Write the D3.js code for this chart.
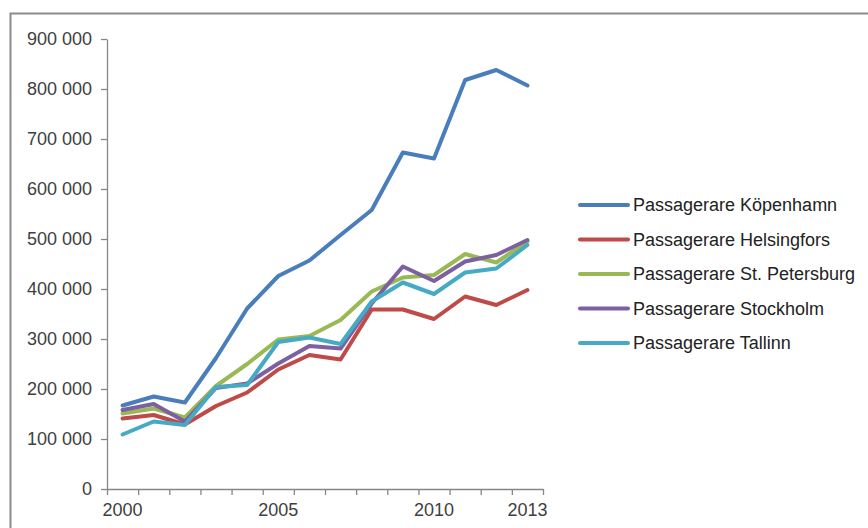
<!DOCTYPE html>
<html>
<head>
<meta charset="utf-8">
<script src="https://cdn.jsdelivr.net/npm/d3@7"></script>
<style>
  html, body { margin: 0; padding: 0; background: #fff; }
  svg { display: block; font-family: "Liberation Sans", Arial, sans-serif; }
</style>
</head>
<body>
<svg id="chart" width="868" height="528"></svg>
<script>
// Passenger counts per port, 2000–2013
const years = [2000, 2001, 2002, 2003, 2004, 2005, 2006, 2007, 2008, 2009, 2010, 2011, 2012, 2013];
const xLabels = [2000, 2005, 2010, 2013];
const yTicks = [0, 100000, 200000, 300000, 400000, 500000, 600000, 700000, 800000, 900000];

const seriesNames = [
  "Passagerare Köpenhamn",
  "Passagerare Helsingfors",
  "Passagerare St. Petersburg",
  "Passagerare Stockholm",
  "Passagerare Tallinn"
];
const kopenhamn     = [167000, 185000, 173000, 262000, 361000, 426000, 457000, 508000, 558000, 673000, 661000, 818000, 838000, 807000];
const helsingfors   = [141000, 148000, 129000, 166000, 193000, 239000, 268000, 259000, 359000, 359000, 340000, 385000, 368000, 398000];
const stPetersburg  = [151000, 161000, 143000, 206000, 250000, 299000, 306000, 338000, 395000, 423000, 428000, 470000, 453000, 495000];
const stockholm     = [158000, 170000, 135000, 202000, 211000, 251000, 286000, 281000, 371000, 445000, 416000, 455000, 468000, 498000];
const tallinn       = [109000, 135000, 128000, 204000, 208000, 294000, 303000, 290000, 375000, 413000, 390000, 433000, 441000, 488000];
const seriesValues = [kopenhamn, helsingfors, stPetersburg, stockholm, tallinn];
const seriesColors = ["#4A7EBB", "#BE4B48", "#98B954", "#7D60A0", "#46AAC5"];

const svg = d3.select("#chart");

// outer chart-area frame (runs off the right and bottom edges)
svg.append("rect")
  .attr("x", 10.5).attr("y", 13.5)
  .attr("width", 880).attr("height", 540)
  .attr("fill", "none")
  .attr("stroke", "#8a8a8a")
  .attr("stroke-width", 2);

const plot = { left: 107, right: 543, top: 39, bottom: 489 };

const x = d3.scaleBand().domain(years).range([plot.left, plot.right]).padding(0);
const xEdges = d3.scaleLinear().domain([0, years.length]).range([plot.left, plot.right]);
const y = d3.scaleLinear().domain([0, 900000]).range([plot.bottom, plot.top]);

const locale = d3.formatLocale({ decimal: ",", thousands: " ", grouping: [3], currency: ["", ""] });
const fmt = locale.format(",d");

const axisColor = "#868686";
const textColor = "#404040";
const fontSize = 18;

// y axis
const yAxis = svg.append("g")
  .attr("transform", `translate(${plot.left},0)`)
  .call(d3.axisLeft(y).tickValues(yTicks).tickFormat(fmt).tickSize(6).tickPadding(9).tickSizeOuter(0));
yAxis.select(".domain").attr("stroke", axisColor).attr("stroke-width", 1.3);
yAxis.selectAll(".tick line").attr("stroke", axisColor).attr("stroke-width", 1.3);
yAxis.selectAll(".tick text").attr("fill", textColor).style("font-size", fontSize + "px")
  .style("font-family", "'Liberation Sans', Arial, sans-serif");

// x axis: tick marks between categories
const xTickAxis = svg.append("g")
  .attr("transform", `translate(0,${plot.bottom})`)
  .call(d3.axisBottom(xEdges).tickValues(d3.range(years.length + 1)).tickFormat("").tickSize(6).tickSizeOuter(0));
xTickAxis.select(".domain").attr("stroke", axisColor).attr("stroke-width", 1.3);
xTickAxis.selectAll(".tick line").attr("stroke", axisColor).attr("stroke-width", 1.3);

// x axis: year labels centred on categories
const xLabelAxis = svg.append("g")
  .attr("transform", `translate(0,${plot.bottom})`)
  .call(d3.axisBottom(x).tickValues(xLabels).tickSize(0).tickPadding(14));
xLabelAxis.select(".domain").remove();
xLabelAxis.selectAll(".tick text").attr("fill", textColor).style("font-size", fontSize + "px")
  .style("font-family", "'Liberation Sans', Arial, sans-serif");

// series lines
const line = d3.line()
  .x((d, i) => x(years[i]) + x.bandwidth() / 2)
  .y(d => y(d));

svg.append("g").selectAll("path")
  .data(seriesValues)
  .join("path")
  .attr("d", d => line(d))
  .attr("fill", "none")
  .attr("stroke", (d, i) => seriesColors[i])
  .attr("stroke-width", 4)
  .attr("stroke-linejoin", "round")
  .attr("stroke-linecap", "round");

// legend
const legend = svg.append("g").attr("transform", "translate(580,205)");
const rowGap = 34.5;
const rows = legend.selectAll("g")
  .data(seriesNames)
  .join("g")
  .attr("transform", (d, i) => `translate(0,${i * rowGap})`);
rows.append("line")
  .attr("x1", 0).attr("x2", 48).attr("y1", 0).attr("y2", 0)
  .attr("stroke", (d, i) => seriesColors[i])
  .attr("stroke-width", 4)
  .attr("stroke-linecap", "round");
rows.append("text")
  .attr("x", 53).attr("y", 0)
  .attr("dy", "0.36em")
  .attr("fill", "#222")
  .style("font-size", fontSize + "px")
  .text(d => d);
</script>
</body>
</html>
